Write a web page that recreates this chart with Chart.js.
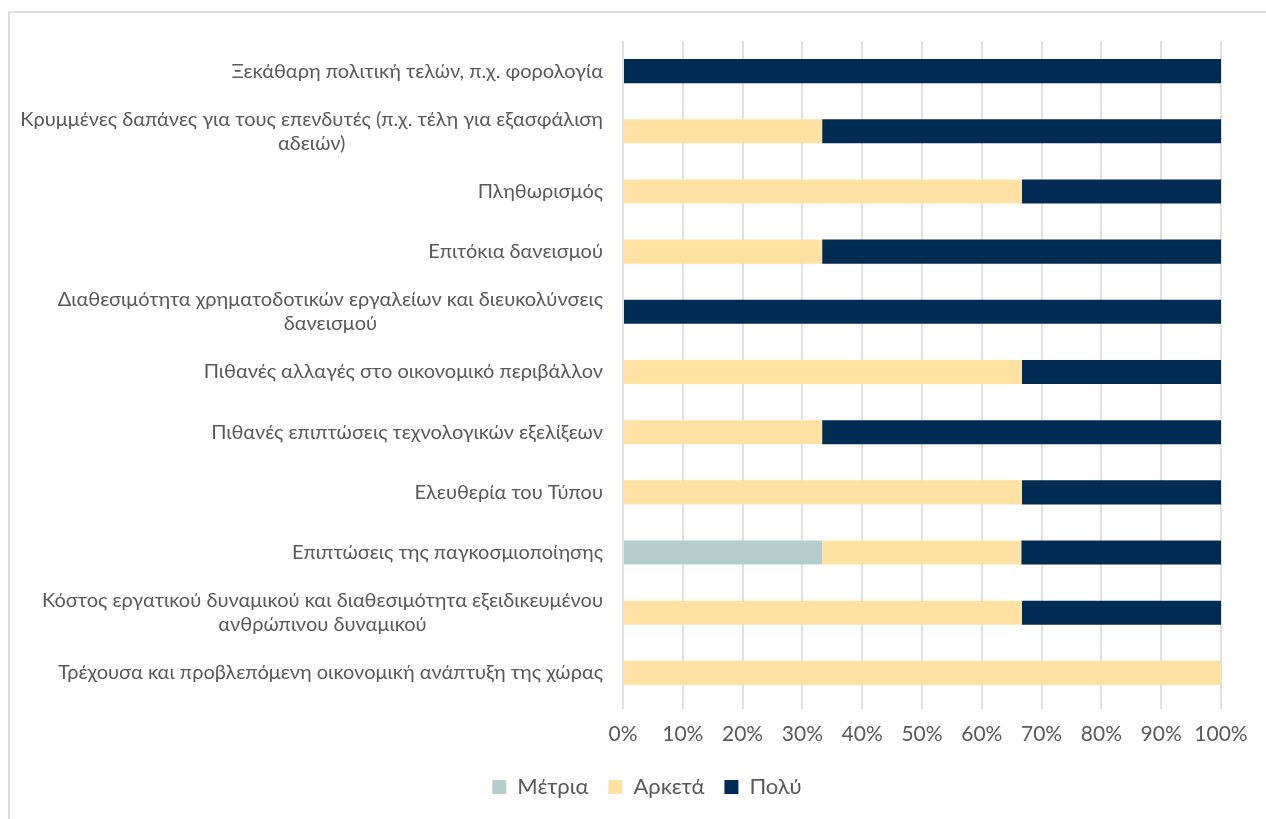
<!DOCTYPE html>
<html lang="el">
<head>
<meta charset="utf-8">
<title>Παράγοντες επενδυτικής απόφασης</title>
<script src="https://cdn.jsdelivr.net/npm/chart.js@4/dist/chart.umd.min.js"></script>
<style>
  html, body { margin: 0; padding: 0; background: #ffffff; overflow: hidden; width: 1266px; height: 819px; }
  #frame {
    position: absolute; left: 8px; top: 11px; width: 1400px; height: 900px;
    border: 2px solid #dedede; box-sizing: border-box;
  }
  #wrap { position: absolute; left: 9px; top: 12px; width: 1276px; height: 796px; }
</style>
</head>
<body>
<div id="frame"></div>
<div id="wrap"><canvas id="chart"></canvas></div>
<script>
// Κατηγορίες (από πάνω προς τα κάτω)
const categories = [
  ["Ξεκάθαρη πολιτική τελών, π.χ. φορολογία"],
  ["Κρυμμένες δαπάνες για τους επενδυτές (π.χ. τέλη για εξασφάλιση", "αδειών)"],
  ["Πληθωρισμός"],
  ["Επιτόκια δανεισμού"],
  ["Διαθεσιμότητα χρηματοδοτικών εργαλείων και διευκολύνσεις", "δανεισμού"],
  ["Πιθανές αλλαγές στο οικονομικό περιβάλλον"],
  ["Πιθανές επιπτώσεις τεχνολογικών εξελίξεων"],
  ["Ελευθερία του Τύπου"],
  ["Επιπτώσεις της παγκοσμιοποίησης"],
  ["Κόστος εργατικού δυναμικού και διαθεσιμότητα εξειδικευμένου", "ανθρώπινου δυναμικού"],
  ["Τρέχουσα και προβλεπόμενη οικονομική ανάπτυξη της χώρας"]
];

// Ποσοστά απαντήσεων (%)
const metria = [0, 0, 0, 0, 0, 0, 0, 0, 33.3, 0, 0];
const arketa = [0, 33.3, 66.7, 33.3, 0, 66.7, 33.3, 66.7, 33.3, 66.7, 100];
const poly   = [100, 66.7, 33.3, 66.7, 100, 33.3, 66.7, 33.3, 33.4, 33.3, 0];

const seriesNames = ["Μέτρια", "Αρκετά", "Πολύ"];
const xTicks = [0, 10, 20, 30, 40, 50, 60, 70, 80, 90, 100];

const FONT = "Lato, 'Open Sans', sans-serif";
const TEXT = "#595959";

// Ετικέτες κατηγοριών: δεξιά στοίχιση, οι γραμμές κάθε ετικέτας κεντραρισμένες μεταξύ τους
const categoryLabels = {
  id: "categoryLabels",
  afterDraw(chart) {
    const ctx = chart.ctx;
    const y = chart.scales.y;
    const right = chart.chartArea.left - 20;
    const lh = 24;
    ctx.save();
    ctx.font = "20px " + FONT;
    ctx.fillStyle = TEXT;
    ctx.textAlign = "center";
    ctx.textBaseline = "middle";
    categories.forEach((lines, i) => {
      const cy = y.getPixelForValue(i);
      const w = Math.max(...lines.map(l => ctx.measureText(l).width));
      const cx = right - w / 2;
      const top = cy - (lines.length - 1) * lh / 2;
      lines.forEach((l, k) => ctx.fillText(l, cx, top + k * lh));
    });
    ctx.restore();
  }
};

new Chart(document.getElementById("chart"), {
  type: "bar",
  data: {
    labels: categories.map(c => c.join(" ")),
    datasets: [
      { label: seriesNames[0], data: metria, backgroundColor: "#b4cecd" },
      { label: seriesNames[1], data: arketa, backgroundColor: "#ffe2a3" },
      { label: seriesNames[2], data: poly,   backgroundColor: "#002b52" }
    ]
  },
  options: {
    indexAxis: "y",
    responsive: true,
    maintainAspectRatio: false,
    animation: false,
    layout: { padding: { left: 64, right: 64, top: 29, bottom: 0 } },
    datasets: { bar: { barPercentage: 0.4, categoryPercentage: 1 } },
    scales: {
      x: {
        stacked: true,
        min: 0, max: 100,
        afterBuildTicks(scale) { scale.ticks = xTicks.map(v => ({ value: v })); },
        afterFit(scale) { scale.height = 53; },
        grid: { color: "#e0e0e0", lineWidth: 2, drawTicks: true, tickLength: 6, tickColor: "#e0e0e0" },
        border: { display: false },
        ticks: {
          color: TEXT, padding: 13,
          font: { family: FONT, size: 21 },
          callback: v => v + "%"
        }
      },
      y: {
        stacked: true,
        grid: { display: false },
        border: { display: false },
        ticks: { display: false },
        afterFit(scale) { scale.width = 550; }
      }
    },
    plugins: {
      legend: {
        position: "bottom",
        labels: {
          color: TEXT,
          font: { family: FONT, size: 22 },
          boxWidth: 14, boxHeight: 14,
          padding: 20
        }
      },
      tooltip: { enabled: false }
    }
  },
  plugins: [categoryLabels]
});
</script>
</body>
</html>
